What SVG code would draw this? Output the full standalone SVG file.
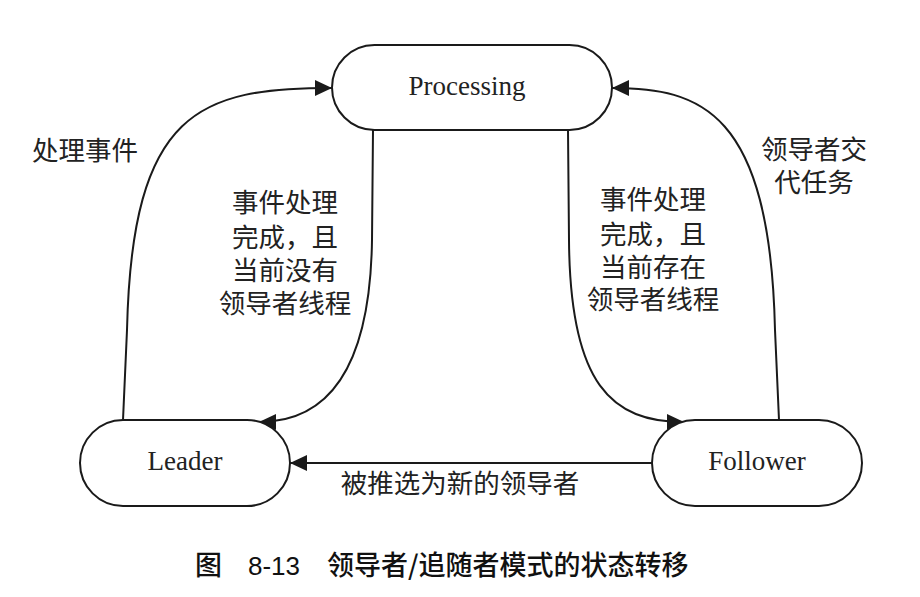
<svg xmlns="http://www.w3.org/2000/svg" width="920" height="597" viewBox="0 0 920 597">
<style>
.node{fill:#fff;stroke:#1a1a1a;stroke-width:2}
.ntext{font-family:"Liberation Serif",serif;font-size:27px;fill:#222;text-anchor:middle}
.edge{fill:none;stroke:#1a1a1a;stroke-width:2}
.lbl{font-family:"Noto Sans CJK SC","Noto Sans",sans-serif;font-size:26.5px;fill:#222}
.mid{text-anchor:middle}
.cap{font-family:"Noto Sans CJK SC","Noto Sans",sans-serif;font-size:27px;font-weight:500;fill:#111}
</style>
<defs>
<marker id="arr" markerUnits="userSpaceOnUse" markerWidth="18" markerHeight="18" refX="17" refY="8" orient="auto">
<path d="M0,0 L17,8 L0,16 Z" fill="#1a1a1a"/>
</marker>
</defs>
<rect width="920" height="597" fill="#fff"/>
<g id="connectors">
<path class="edge" d="M123,420 L127,330 C132,110 200,88 332,88" marker-end="url(#arr)"/>
<path class="edge" d="M779,420 L775,330 C770,110 700,88 612,88" marker-end="url(#arr)"/>
<path class="edge" d="M373,130 L372,240 C370,380 320,422 259,422" marker-end="url(#arr)"/>
<path class="edge" d="M568,130 L569,240 C570,385 612,422 684,422" marker-end="url(#arr)"/>
<path class="edge" d="M652,463 L290,463" marker-end="url(#arr)"/>
</g>
<g id="processing">
<rect class="node" x="332" y="45" width="280" height="85" rx="42.5" ry="42.5"/>
<text class="ntext" x="467" y="95">Processing</text>
</g>
<g id="leader">
<rect class="node" x="80" y="420" width="210" height="86" rx="43" ry="43"/>
<text class="ntext" x="185" y="470">Leader</text>
</g>
<g id="follower">
<rect class="node" x="652" y="420" width="210" height="86" rx="43" ry="43"/>
<text class="ntext" x="757" y="470">Follower</text>
</g>
<g id="labels">
<text class="lbl" x="32" y="160">处理事件</text>
<text class="lbl mid" x="285" y="212">事件处理</text>
<text class="lbl mid" x="285" y="247">完成，且</text>
<text class="lbl mid" x="285" y="280">当前没有</text>
<text class="lbl mid" x="285" y="313">领导者线程</text>
<text class="lbl mid" x="653" y="209">事件处理</text>
<text class="lbl mid" x="653" y="244">完成，且</text>
<text class="lbl mid" x="653" y="277">当前存在</text>
<text class="lbl mid" x="653" y="309">领导者线程</text>
<text class="lbl mid" x="814" y="159">领导者交</text>
<text class="lbl mid" x="814" y="192">代任务</text>
<text class="lbl mid" x="460" y="493">被推选为新的领导者</text>
</g>
<g id="caption">
<text class="cap" x="195" y="575">图</text>
<text x="248" y="575" font-family="Liberation Sans,sans-serif" font-size="26" fill="#111">8-13</text>
<text class="cap" x="327" y="575">领导者/追随者模式的状态转移</text>
</g>
</svg>
